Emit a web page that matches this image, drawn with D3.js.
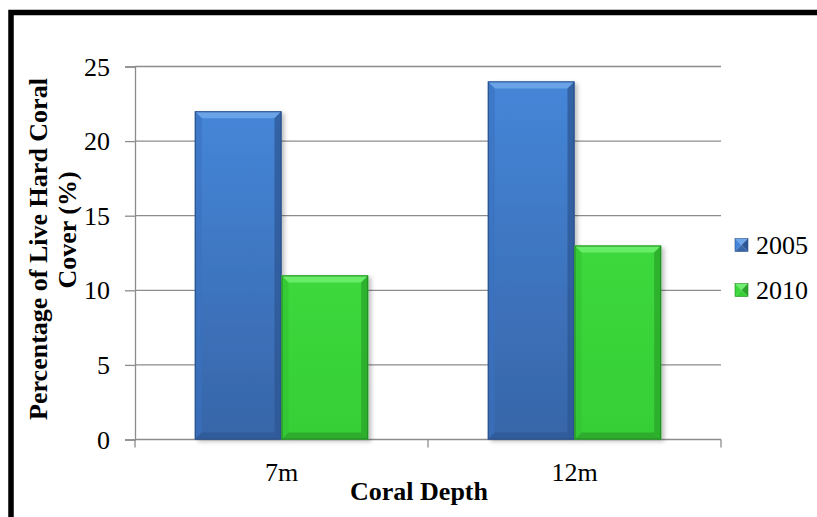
<!DOCTYPE html>
<html>
<head>
<meta charset="utf-8">
<script src="https://cdn.jsdelivr.net/npm/d3@7"></script>
<style>
  html, body { margin: 0; padding: 0; background: #fff; }
  svg { display: block; }
  text { font-family: "Liberation Serif", "Times New Roman", serif; fill: #000; }
</style>
</head>
<body>
<svg id="chart" width="817" height="517"></svg>
<script>
// Live hard coral cover by depth, two survey years
const depths = ["7m", "12m"];
const years = ["2005", "2010"];
const cover2005 = [22, 24];
const cover2010 = [11, 13];
const yTicks = [0, 5, 10, 15, 20, 25];

const seriesValues = [cover2005, cover2010];
const palette = {
  "2005": { face0: "#4586d8", face1: "#3765a8", top: "#6ea6ea", left: "#3a72bf", right: "#2d5794", bottom: "#2f5a97", edge: "#2a4f85" },
  "2010": { face0: "#3cd83c", face1: "#36cf36", top: "#6ef06e", left: "#33c233", right: "#2aa62a", bottom: "#2ca02c", edge: "#238a23" }
};

const FS = 26;
const svg = d3.select("#chart");
const W = 817, H = 517;
const plot = { left: 135, right: 721, top: 66.5, bottom: 439.5 };

const x0 = d3.scaleBand().domain(depths).range([plot.left, plot.right]).paddingInner(0).paddingOuter(0);
const x1 = d3.scaleBand().domain(years).range([0, x0.bandwidth()]).paddingInner(0).paddingOuter(0.69);
const y = d3.scaleLinear().domain([0, 25]).range([plot.bottom, plot.top]);

// outer frame
svg.append("path")
  .attr("d", `M11,${H + 10} L11,12.5 L${W + 10},12.5`)
  .attr("fill", "none").attr("stroke", "#000").attr("stroke-width", 5.5);

const defs = svg.append("defs");
years.forEach(yr => {
  const g = defs.append("linearGradient").attr("id", "face" + yr).attr("x1", 0).attr("y1", 0).attr("x2", 0).attr("y2", 1);
  g.append("stop").attr("offset", "0%").attr("stop-color", palette[yr].face0);
  g.append("stop").attr("offset", "100%").attr("stop-color", palette[yr].face1);
});
const shadow = defs.append("filter").attr("id", "shadow").attr("x", "-20%").attr("y", "-20%").attr("width", "140%").attr("height", "140%");
shadow.append("feDropShadow").attr("dx", 3).attr("dy", 2).attr("stdDeviation", 2).attr("flood-color", "#000").attr("flood-opacity", 0.25);

// gridlines
svg.append("g")
  .selectAll("line").data(yTicks.filter(d => d > 0)).join("line")
  .attr("x1", plot.left).attr("x2", plot.right)
  .attr("y1", d => y(d)).attr("y2", d => y(d))
  .attr("stroke", "#8c8c8c").attr("stroke-width", 1.3);

// y axis
const yAxis = svg.append("g").attr("transform", `translate(${plot.left},0)`)
  .call(d3.axisLeft(y).tickValues(yTicks).tickSize(10).tickPadding(15));
yAxis.attr("font-size", null).attr("font-family", null);
yAxis.select(".domain").attr("stroke", "#8c8c8c").attr("stroke-width", 1.3);
yAxis.selectAll(".tick line").attr("stroke", "#8c8c8c").attr("stroke-width", 1.3);
yAxis.selectAll(".tick text").attr("font-size", FS).attr("dy", "0.33em");

// x axis with category boundary ticks
const xAxisG = svg.append("g").attr("transform", `translate(0,${y(0)})`);
xAxisG.append("line").attr("x1", plot.left).attr("x2", plot.right)
  .attr("stroke", "#8c8c8c").attr("stroke-width", 1.3);
const bounds = depths.map(d => x0(d)).concat([x0(depths[depths.length - 1]) + x0.bandwidth()]);
xAxisG.selectAll(".bt").data(bounds).join("line")
  .attr("x1", d => d).attr("x2", d => d).attr("y1", 0).attr("y2", 8)
  .attr("stroke", "#8c8c8c").attr("stroke-width", 1.3);
xAxisG.selectAll(".cl").data(depths).join("text")
  .attr("x", d => x0(d) + x0.bandwidth() / 2).attr("y", 41)
  .attr("text-anchor", "middle").attr("font-size", FS).text(d => d);

// bars with bevelled faces
const bev = 7;
const bars = svg.append("g");
years.forEach((yr, si) => {
  const p = palette[yr];
  depths.forEach((dp, ci) => {
    const v = seriesValues[si][ci];
    const bx = x0(dp) + x1(yr), bw = x1.bandwidth();
    const by = y(v), bh = y(0) - y(v);
    const g = bars.append("g");
    g.append("rect").attr("x", bx).attr("y", by).attr("width", bw).attr("height", bh)
      .attr("fill", `url(#face${yr})`).attr("filter", "url(#shadow)");
    const X0 = bx, X1 = bx + bw, Y0 = by, Y1 = by + bh;
    const poly = (pts, fill, op) => g.append("polygon")
      .attr("points", pts.map(q => q.join(",")).join(" ")).attr("fill", fill).attr("opacity", op);
    poly([[X0, Y0], [X1, Y0], [X1 - bev, Y0 + bev], [X0 + bev, Y0 + bev]], p.top, 0.9);
    poly([[X0, Y0], [X0 + bev, Y0 + bev], [X0 + bev, Y1 - bev], [X0, Y1]], p.left, 0.6);
    poly([[X1, Y0], [X1, Y1], [X1 - bev, Y1 - bev], [X1 - bev, Y0 + bev]], p.right, 0.75);
    poly([[X0, Y1], [X0 + bev, Y1 - bev], [X1 - bev, Y1 - bev], [X1, Y1]], p.bottom, 0.75);
    g.append("rect").attr("x", bx + 0.5).attr("y", by + 0.5).attr("width", bw - 1).attr("height", bh - 1)
      .attr("fill", "none").attr("stroke", p.edge).attr("stroke-width", 1);
  });
});

// axis titles
svg.append("text")
  .attr("x", 419).attr("y", 500)
  .attr("text-anchor", "middle").attr("font-size", FS).attr("font-weight", "bold").text("Coral Depth");
svg.append("text")
  .attr("transform", "translate(47,249) rotate(-90)")
  .attr("text-anchor", "middle").attr("font-size", FS).attr("font-weight", "bold")
  .text("Percentage of Live Hard Coral");
svg.append("text")
  .attr("transform", "translate(76,230) rotate(-90)")
  .attr("text-anchor", "middle").attr("font-size", FS).attr("font-weight", "bold")
  .text("Cover (%)");

// legend
const lg = svg.append("g").attr("transform", "translate(735,245)");
years.forEach((yr, i) => {
  const p = palette[yr];
  const row = lg.append("g").attr("transform", `translate(0,${i * 45})`);
  const s = 13, cx = s / 2, cy = 0;
  const tri = (pts, fill) => row.append("polygon").attr("points", pts.map(q => q.join(",")).join(" ")).attr("fill", fill);
  tri([[0, -s / 2], [s, -s / 2], [cx, cy]], p.top);
  tri([[0, -s / 2], [cx, cy], [0, s / 2]], p.face0);
  tri([[s, -s / 2], [s, s / 2], [cx, cy]], p.right);
  tri([[0, s / 2], [cx, cy], [s, s / 2]], p.face1);
  row.append("rect").attr("x", 0).attr("y", -s / 2).attr("width", s).attr("height", s)
    .attr("fill", "none").attr("stroke", p.edge).attr("stroke-width", 0.6);
  row.append("text").attr("x", 21).attr("y", 0).attr("dy", "0.35em").attr("font-size", FS).text(yr);
});
</script>
</body>
</html>
